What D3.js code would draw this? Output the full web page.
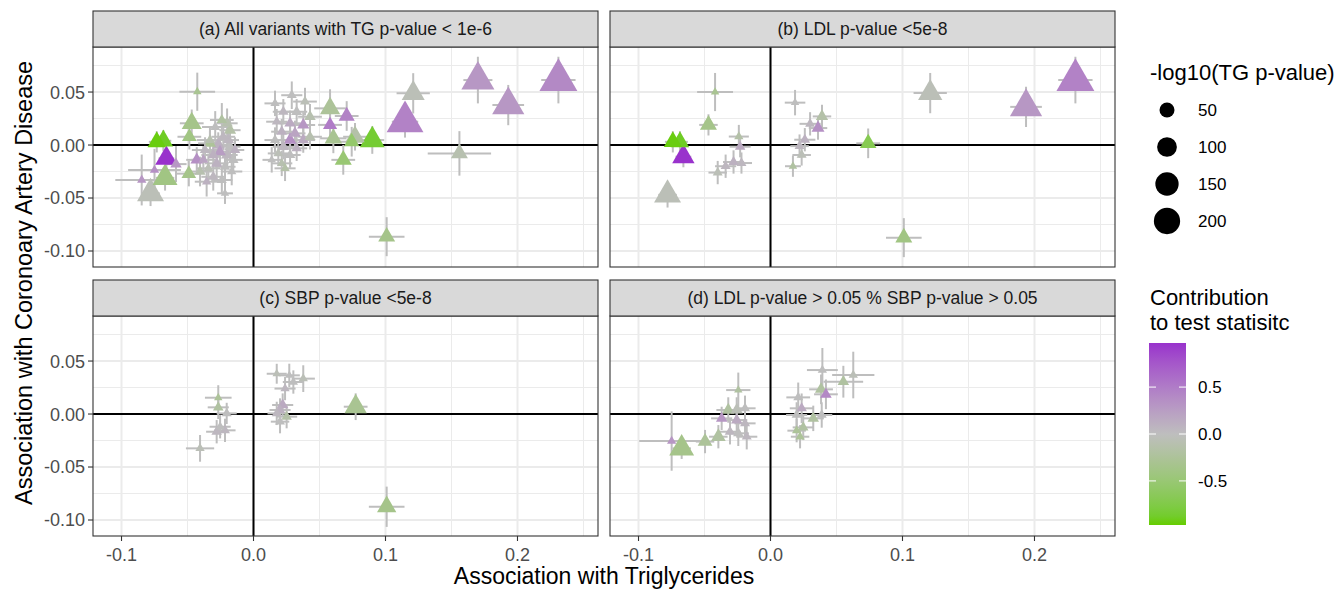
<!DOCTYPE html>
<html>
<head>
<meta charset="utf-8">
<script src="https://cdn.jsdelivr.net/npm/d3@7"></script>
<style>
  body { margin: 0; background: #fff; }
  svg { font-family: "Liberation Sans", Arial, Helvetica, sans-serif; }
</style>
</head>
<body>
<svg id="chart" width="1341" height="591"></svg>
<script>
// each row: [TG beta, CAD beta, TG half-bar, CAD half-bar, -log10(TG p), contribution]
const panelA = [
  [-0.0426, 0.0503, 0.0135, 0.018, 7, -0.3],
  [-0.0733, 0.003, 0.006, 0.010, 40, -0.95],
  [-0.0683, 0.004, 0.006, 0.010, 45, -0.9],
  [-0.066, -0.0126, 0.006, 0.010, 65, 0.97],
  [-0.067, -0.031, 0.007, 0.012, 85, -0.4],
  [-0.078, -0.0456, 0.007, 0.012, 104, -0.05],
  [-0.0847, -0.033, 0.02, 0.024, 8, 0.3],
  [-0.075, -0.0236, 0.02, 0.02, 8, 0.35],
  [-0.0587, -0.018, 0.008, 0.017, 12, 0.3],
  [-0.0468, 0.0205, 0.009, 0.013, 49, -0.35],
  [-0.0486, 0.0078, 0.009, 0.012, 22, -0.4],
  [-0.049, -0.027, 0.009, 0.012, 22, -0.35],
  [-0.043, -0.014, 0.008, 0.012, 15, 0.35],
  [-0.024, 0.0236, 0.009, 0.016, 10, -0.2],
  [-0.020, 0.0205, 0.008, 0.014, 12, -0.1],
  [-0.029, 0.017, 0.010, 0.015, 9, 0],
  [-0.0178, 0.014, 0.008, 0.013, 14, -0.15],
  [-0.0229, 0.0078, 0.009, 0.013, 11, 0.05],
  [-0.033, 0.0047, 0.010, 0.012, 9, -0.1],
  [-0.0267, 0, 0.009, 0.012, 16, 0.1],
  [-0.0178, -0.0016, 0.008, 0.012, 12, 0],
  [-0.0367, -0.0047, 0.010, 0.012, 10, 0.05],
  [-0.0254, -0.0063, 0.009, 0.012, 13, 0.25],
  [-0.0305, -0.0094, 0.009, 0.012, 11, 0.1],
  [-0.020, -0.0094, 0.008, 0.012, 14, 0.05],
  [-0.038, -0.014, 0.009, 0.013, 9, 0.2],
  [-0.0153, -0.014, 0.007, 0.013, 10, 0],
  [-0.0279, -0.0173, 0.009, 0.013, 12, 0.1],
  [-0.0216, -0.0205, 0.008, 0.013, 10, 0],
  [-0.0342, -0.022, 0.009, 0.014, 9, -0.05],
  [-0.0405, -0.025, 0.009, 0.014, 11, -0.1],
  [-0.0165, -0.025, 0.008, 0.013, 8, 0],
  [-0.0305, -0.030, 0.009, 0.013, 10, 0.05],
  [-0.024, -0.033, 0.008, 0.013, 9, 0],
  [-0.0355, -0.0346, 0.009, 0.014, 8, 0.1],
  [-0.0216, -0.0456, 0.006, 0.010, 7, 0],
  [-0.019, 0.0047, 0.008, 0.012, 12, 0.05],
  [-0.014, -0.0047, 0.007, 0.012, 10, 0.1],
  [-0.033, 0.0016, 0.009, 0.012, 14, -0.25],
  [0.0163, 0.0393, 0.008, 0.012, 8, 0],
  [0.029, 0.047, 0.008, 0.013, 9, 0],
  [0.039, 0.041, 0.009, 0.013, 9, -0.05],
  [0.0226, 0.0314, 0.008, 0.012, 10, 0.05],
  [0.0327, 0.0314, 0.008, 0.012, 11, 0],
  [0.0428, 0.0267, 0.009, 0.012, 12, -0.1],
  [0.0176, 0.022, 0.008, 0.012, 9, 0.05],
  [0.0277, 0.0205, 0.008, 0.012, 12, 0.15],
  [0.0377, 0.0189, 0.009, 0.012, 14, 0.3],
  [0.0214, 0.0126, 0.008, 0.012, 10, 0.1],
  [0.0314, 0.011, 0.008, 0.012, 13, 0.2],
  [0.0428, 0.0078, 0.009, 0.012, 11, -0.1],
  [0.0163, 0.0047, 0.008, 0.012, 9, 0],
  [0.0277, 0.0047, 0.008, 0.012, 16, 0.35],
  [0.0226, -0.0016, 0.008, 0.012, 12, 0.05],
  [0.0327, -0.0031, 0.008, 0.012, 10, 0.1],
  [0.0188, -0.0079, 0.008, 0.012, 9, -0.05],
  [0.0277, -0.0094, 0.008, 0.012, 10, 0],
  [0.0214, -0.0173, 0.008, 0.012, 8, -0.1],
  [0.0239, -0.022, 0.008, 0.012, 8, -0.15],
  [0.0138, -0.014, 0.007, 0.012, 7, 0],
  [0.0377, 0.0047, 0.009, 0.012, 12, 0.15],
  [0.058, 0.0346, 0.012, 0.018, 50, -0.25],
  [0.0706, 0.0274, 0.009, 0.014, 28, 0.45],
  [0.058, 0.019, 0.009, 0.013, 20, 0.5],
  [0.0605, 0.0063, 0.010, 0.014, 35, -0.3],
  [0.068, -0.014, 0.009, 0.014, 32, -0.5],
  [0.0769, 0.0078, 0.009, 0.013, 45, -0.15],
  [0.0744, 0.0031, 0.009, 0.014, 25, -0.55],
  [0.090, 0.0047, 0.009, 0.013, 85, -0.85],
  [0.1148, 0.022, 0.010, 0.015, 220, 0.45],
  [0.121, 0.0488, 0.0126, 0.019, 70, -0.05],
  [0.170, 0.0613, 0.011, 0.022, 170, 0.3],
  [0.193, 0.0377, 0.012, 0.019, 160, 0.3],
  [0.231, 0.0613, 0.013, 0.022, 236, 0.4],
  [0.156, -0.0079, 0.024, 0.021, 32, -0.1],
  [0.1009, -0.0865, 0.0135, 0.0184, 32, -0.35]
];

const panelB = [
  [-0.074, 0.003, 0.006, 0.010, 38, -0.95],
  [-0.0686, 0.003, 0.006, 0.010, 40, -0.9],
  [-0.066, -0.011, 0.006, 0.010, 65, 0.97],
  [-0.078, -0.047, 0.007, 0.012, 104, -0.05],
  [-0.047, 0.019, 0.007, 0.010, 32, -0.35],
  [-0.042, 0.050, 0.0136, 0.018, 7, -0.3],
  [-0.024, 0.008, 0.0076, 0.011, 8, -0.15],
  [-0.023, -0.0016, 0.008, 0.010, 10, 0.15],
  [-0.022, -0.017, 0.008, 0.010, 9, 0.05],
  [-0.028, -0.016, 0.008, 0.011, 10, 0.1],
  [-0.034, -0.020, 0.008, 0.011, 9, 0.05],
  [-0.040, -0.026, 0.007, 0.011, 9, -0.05],
  [0.0186, 0.040, 0.0078, 0.012, 7, 0],
  [0.039, 0.027, 0.007, 0.011, 14, -0.15],
  [0.030, 0.020, 0.008, 0.011, 9, 0.05],
  [0.036, 0.016, 0.007, 0.011, 16, 0.35],
  [0.026, 0.005, 0.008, 0.011, 10, 0.1],
  [0.022, -0.001, 0.007, 0.011, 9, 0.05],
  [0.0236, -0.0094, 0.007, 0.010, 9, -0.05],
  [0.017, -0.020, 0.006, 0.010, 7, -0.2],
  [0.074, 0.0016, 0.009, 0.014, 30, -0.7],
  [0.121, 0.049, 0.0126, 0.019, 80, -0.05],
  [0.1936, 0.036, 0.012, 0.019, 160, 0.3],
  [0.231, 0.0613, 0.013, 0.022, 236, 0.45],
  [0.101, -0.0874, 0.0135, 0.0184, 32, -0.4]
];

const panelC = [
  [0.0774, 0.0069, 0.009, 0.0126, 65, -0.3],
  [0.1009, -0.0875, 0.0135, 0.019, 45, -0.35],
  [-0.0405, -0.0324, 0.0107, 0.0126, 8, -0.05],
  [-0.0267, 0.0154, 0.0101, 0.0118, 7, -0.25],
  [-0.0267, 0.0063, 0.008, 0.011, 10, -0.2],
  [-0.0203, 0.0006, 0.0076, 0.010, 9, 0],
  [-0.0279, -0.0167, 0.008, 0.011, 10, 0.05],
  [-0.0216, -0.0154, 0.008, 0.011, 9, 0.05],
  [-0.0253, -0.012, 0.008, 0.011, 8, 0],
  [0.0176, 0.038, 0.0076, 0.0094, 7, -0.05],
  [0.0271, 0.0365, 0.008, 0.011, 7, 0],
  [0.0377, 0.0334, 0.0088, 0.0126, 8, -0.05],
  [0.0302, 0.0302, 0.008, 0.011, 8, 0],
  [0.0239, 0.024, 0.008, 0.011, 8, 0.05],
  [0.0221, 0.0085, 0.008, 0.011, 12, 0.15],
  [0.0201, 0.0038, 0.008, 0.011, 10, 0.1],
  [0.0251, -0.0025, 0.008, 0.011, 10, -0.15],
  [0.0201, -0.0072, 0.007, 0.011, 9, 0],
  [0.0176, 0.0006, 0.007, 0.011, 9, 0.05]
];

const panelD = [
  [-0.0749, -0.0255, 0.0246, 0.028, 8, 0.3],
  [-0.0673, -0.0324, 0.007, 0.010, 85, -0.35],
  [-0.0496, -0.026, 0.007, 0.011, 22, -0.25],
  [-0.0395, -0.0214, 0.007, 0.011, 22, -0.2],
  [-0.0244, 0.0226, 0.0092, 0.0165, 7, -0.2],
  [-0.032, 0.0038, 0.009, 0.012, 15, -0.2],
  [-0.0256, 0.0038, 0.009, 0.012, 14, -0.05],
  [-0.037, -0.0041, 0.008, 0.011, 12, 0.3],
  [-0.0256, -0.0057, 0.008, 0.012, 12, 0.15],
  [-0.0193, 0.0054, 0.008, 0.012, 9, 0],
  [-0.0193, -0.0088, 0.008, 0.012, 9, 0.05],
  [-0.0307, -0.0167, 0.008, 0.012, 10, 0.05],
  [-0.0244, -0.0182, 0.008, 0.012, 10, 0],
  [-0.018, -0.0214, 0.008, 0.012, 9, 0.05],
  [0.0393, 0.0415, 0.0117, 0.0208, 8, 0],
  [0.0627, 0.0368, 0.016, 0.022, 8, -0.05],
  [0.0552, 0.0305, 0.015, 0.015, 12, -0.2],
  [0.0383, 0.0233, 0.009, 0.014, 14, -0.2],
  [0.042, 0.0186, 0.009, 0.014, 12, 0.4],
  [0.021, 0.0157, 0.009, 0.014, 9, 0],
  [0.0236, 0.0054, 0.009, 0.014, 10, 0.15],
  [0.0198, -0.0009, 0.008, 0.012, 9, 0],
  [0.0324, -0.0041, 0.008, 0.012, 12, -0.2],
  [0.0388, -0.0009, 0.008, 0.012, 9, 0],
  [0.0248, -0.0126, 0.008, 0.012, 10, -0.2],
  [0.0198, -0.0157, 0.007, 0.011, 8, -0.25],
  [0.0224, -0.0214, 0.007, 0.011, 8, -0.25]
];

const panelTitles = [
  "(a) All variants with TG p-value < 1e-6",
  "(b) LDL p-value <5e-8",
  "(c) SBP p-value <5e-8",
  "(d) LDL p-value > 0.05 % SBP p-value > 0.05"
];
const xTicks = [-0.1, 0.0, 0.1, 0.2];
const xMinor = [-0.05, 0.05, 0.15, 0.25];
const yTicks = [-0.10, -0.05, 0.00, 0.05];
const yMinor = [-0.075, -0.025, 0.025, 0.075];
const sizeBreaks = [50, 100, 150, 200];
const colorBreaks = [-0.5, 0.0, 0.5];

const svg = d3.select("#chart");
const allData = [panelA, panelB, panelC, panelD];

// plain hyphen minus like R output
const loc = d3.formatLocale({decimal: ".", thousands: ",", grouping: [3], currency: ["", ""], minus: "-"});
const f1 = loc.format(".1f"), f2 = loc.format(".2f");

// layout
const panelW = 505, stripH = 36, plotH = 220;
const lefts = [93, 610], tops = [11, 280];

const x = d3.scaleLinear().domain([-0.1216, 0.2610]).range([0, panelW]);
const y = d3.scaleLinear().domain([-0.1151, 0.0925]).range([plotH, 0]);

// size: ggplot area palette, size = 1 + 5*sqrt(rescaled)
const pScale = d3.scaleLinear().domain([6, 240]).range([0, 1]).clamp(true);
const sizeUnit = d3.scaleLinear().domain([0, 1]).range([1, 6]);
const mmPx = 4.73;
function sizeOf(v) { return sizeUnit(Math.sqrt(pScale(v))); }

const cMax = d3.max(allData.flat(), d => Math.abs(d[5]));
const color = d3.scaleLinear()
  .domain([-cMax, 0, cMax])
  .range(["#66CD00", "#BEBEBE", "#9932CC"])
  .interpolate(d3.interpolateLab);

const triangle = d3.symbol().type(d3.symbolTriangle);

allData.forEach(function(data, i) {
  let col = i % 2, row = Math.floor(i / 2);
  let g = svg.append("g")
    .attr("transform", "translate(" + lefts[col] + "," + (tops[row] + stripH) + ")");

  // strip
  svg.append("rect")
    .attr("x", lefts[col]).attr("y", tops[row])
    .attr("width", panelW).attr("height", stripH)
    .attr("fill", "#D9D9D9").attr("stroke", "#333333").attr("stroke-width", 1.1);
  svg.append("text")
    .attr("x", lefts[col] + panelW / 2).attr("y", tops[row] + stripH / 2)
    .attr("dy", "0.36em").attr("text-anchor", "middle")
    .attr("font-size", 17.5).attr("fill", "#1A1A1A")
    .text(panelTitles[i]);

  // grid
  g.selectAll(".gxm").data(xMinor).enter().append("line")
    .attr("x1", d => x(d)).attr("x2", d => x(d)).attr("y1", 0).attr("y2", plotH)
    .attr("stroke", "#EBEBEB").attr("stroke-width", 1);
  g.selectAll(".gym").data(yMinor).enter().append("line")
    .attr("y1", d => y(d)).attr("y2", d => y(d)).attr("x1", 0).attr("x2", panelW)
    .attr("stroke", "#EBEBEB").attr("stroke-width", 1);
  g.selectAll(".gx").data(xTicks).enter().append("line")
    .attr("x1", d => x(d)).attr("x2", d => x(d)).attr("y1", 0).attr("y2", plotH)
    .attr("stroke", "#EBEBEB").attr("stroke-width", 2);
  g.selectAll(".gy").data(yTicks).enter().append("line")
    .attr("y1", d => y(d)).attr("y2", d => y(d)).attr("x1", 0).attr("x2", panelW)
    .attr("stroke", "#EBEBEB").attr("stroke-width", 2);

  // reference lines
  g.append("line").attr("x1", x(0)).attr("x2", x(0)).attr("y1", 0).attr("y2", plotH)
    .attr("stroke", "#000").attr("stroke-width", 2);
  g.append("line").attr("y1", y(0)).attr("y2", y(0)).attr("x1", 0).attr("x2", panelW)
    .attr("stroke", "#000").attr("stroke-width", 2);

  // error bars
  g.selectAll(".eh").data(data).enter().append("line")
    .attr("x1", d => x(d[0] - d[2])).attr("x2", d => x(d[0] + d[2]))
    .attr("y1", d => y(d[1])).attr("y2", d => y(d[1]))
    .attr("stroke", "#BEBEBE").attr("stroke-width", 2);
  g.selectAll(".ev").data(data).enter().append("line")
    .attr("x1", d => x(d[0])).attr("x2", d => x(d[0]))
    .attr("y1", d => y(d[1] - d[3])).attr("y2", d => y(d[1] + d[3]))
    .attr("stroke", "#BEBEBE").attr("stroke-width", 2);

  // points, big ones underneath
  let sorted = data.slice().sort((a, b) => b[4] - a[4]);
  g.selectAll(".pt").data(sorted).enter().append("path")
    .attr("transform", d => "translate(" + x(d[0]) + "," + y(d[1]) + ")")
    .attr("d", d => {
      let w = 1.347 * mmPx * sizeOf(d[4]);
      return triangle.size(Math.sqrt(3) / 4 * w * w)();
    })
    .attr("fill", d => color(d[5]));

  // border
  g.append("rect").attr("width", panelW).attr("height", plotH)
    .attr("fill", "none").attr("stroke", "#333333").attr("stroke-width", 1.1);

  // axes
  if (col === 0) {
    let ya = g.append("g");
    ya.selectAll("line").data(yTicks).enter().append("line")
      .attr("x1", -5).attr("x2", 0).attr("y1", d => y(d)).attr("y2", d => y(d))
      .attr("stroke", "#333333").attr("stroke-width", 1.1);
    ya.selectAll("text").data(yTicks).enter().append("text")
      .attr("x", -8).attr("y", d => y(d)).attr("dy", "0.36em")
      .attr("text-anchor", "end").attr("font-size", 18).attr("fill", "#4D4D4D")
      .text(d => f2(d));
  }
  if (row === 1) {
    let xa = g.append("g").attr("transform", "translate(0," + plotH + ")");
    xa.selectAll("line").data(xTicks).enter().append("line")
      .attr("x1", d => x(d)).attr("x2", d => x(d)).attr("y1", 0).attr("y2", 5)
      .attr("stroke", "#333333").attr("stroke-width", 1.1);
    xa.selectAll("text").data(xTicks).enter().append("text")
      .attr("x", d => x(d)).attr("y", 19).attr("dy", "0.36em")
      .attr("text-anchor", "middle").attr("font-size", 18).attr("fill", "#4D4D4D")
      .text(d => f1(d));
  }
});

// axis titles
svg.append("text")
  .attr("x", (lefts[0] + lefts[1] + panelW) / 2).attr("y", 576).attr("dy", "0.36em")
  .attr("text-anchor", "middle").attr("font-size", 23).attr("fill", "#000")
  .text("Association with Triglycerides");
svg.append("text")
  .attr("transform", "translate(24,283) rotate(-90)")
  .attr("dy", "0.36em")
  .attr("text-anchor", "middle").attr("font-size", 23.5).attr("fill", "#000")
  .text("Association with Coronoary Artery Disease");

// size legend
const leg1 = svg.append("g");
leg1.append("text").attr("x", 1150).attr("y", 72).attr("dy", "0.36em")
  .attr("font-size", 22).text("-log10(TG p-value)");
leg1.selectAll("circle").data(sizeBreaks).enter().append("circle")
  .attr("cx", 1167).attr("cy", (d, i) => 110 + i * 37)
  .attr("r", d => mmPx * sizeOf(d) / 2).attr("fill", "#000");
leg1.selectAll(".lab").data(sizeBreaks).enter().append("text")
  .attr("x", 1198).attr("y", (d, i) => 110 + i * 37).attr("dy", "0.36em")
  .attr("font-size", 17).text(d => d);

// colour legend
const barX = 1149, barW = 37, barTop = 343, barH = 182;
const cy = d3.scaleLinear().domain([-cMax, cMax]).range([barTop + barH, barTop]);
const defs = svg.append("defs");
const grad = defs.append("linearGradient").attr("id", "cgrad")
  .attr("x1", 0).attr("x2", 0).attr("y1", 1).attr("y2", 0);
d3.range(0, 1.0001, 0.05).forEach(function(t) {
  grad.append("stop").attr("offset", t).attr("stop-color", color(-cMax + 2 * cMax * t));
});
const leg2 = svg.append("g");
leg2.append("text").attr("x", 1150).attr("y", 297).attr("dy", "0.36em")
  .attr("font-size", 22).text("Contribution");
leg2.append("text").attr("x", 1150).attr("y", 322).attr("dy", "0.36em")
  .attr("font-size", 22).text("to test statisitc");
leg2.append("rect").attr("x", barX).attr("y", barTop).attr("width", barW).attr("height", barH)
  .attr("fill", "url(#cgrad)");
colorBreaks.forEach(function(v) {
  leg2.append("line").attr("x1", barX).attr("x2", barX + 7).attr("y1", cy(v)).attr("y2", cy(v))
    .attr("stroke", "#fff").attr("stroke-width", 1);
  leg2.append("line").attr("x1", barX + barW - 7).attr("x2", barX + barW).attr("y1", cy(v)).attr("y2", cy(v))
    .attr("stroke", "#fff").attr("stroke-width", 1);
  leg2.append("text").attr("x", 1198).attr("y", cy(v)).attr("dy", "0.36em")
    .attr("font-size", 17).text(f1(v));
});
</script>
</body>
</html>
